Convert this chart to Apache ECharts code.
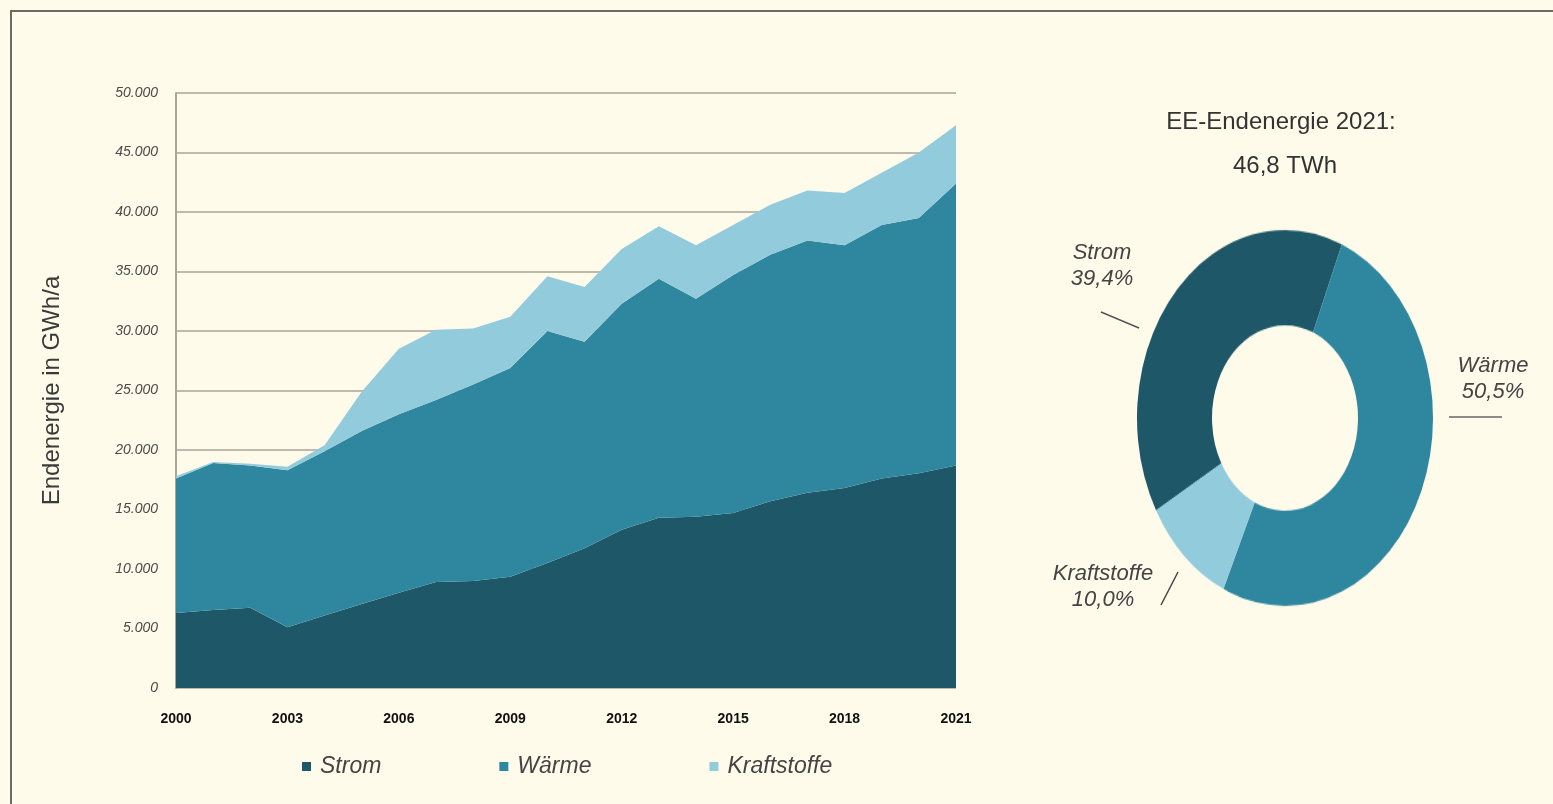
<!DOCTYPE html>
<html>
<head>
<meta charset="utf-8">
<script src="https://cdn.jsdelivr.net/npm/echarts@6/dist/echarts.min.js"></script>
<style>
  html, body { margin: 0; padding: 0; background: #fefbea; }
  #main { position: absolute; left: 0; top: 0; width: 1553px; height: 804px; }
  #pie { position: absolute; left: 1135px; top: 268px; width: 300px; height: 300px; transform: scaleY(1.27); transform-origin: 50% 50%; }
</style>
</head>
<body>
<div id="main"></div>
<div id="pie"></div>
<script>
// ---- data ----
const years = ['2000','2001','2002','2003','2004','2005','2006','2007','2008','2009','2010','2011','2012','2013','2014','2015','2016','2017','2018','2019','2020','2021'];
const strom = [6300, 6550, 6750, 5100, 6100, 7050, 8000, 8900, 9000, 9350, 10500, 11750, 13300, 14300, 14400, 14700, 15700, 16400, 16800, 17600, 18050, 18700];
const waerme = [11300, 12350, 11950, 13200, 13800, 14550, 15000, 15300, 16500, 17550, 19500, 17350, 19000, 20100, 18300, 20000, 20700, 21200, 20400, 21300, 21450, 23700];
const kraftstoffe = [200, 100, 150, 300, 500, 3300, 5500, 5900, 4700, 4300, 4600, 4600, 4600, 4400, 4500, 4200, 4200, 4200, 4400, 4400, 5500, 4900];
const seriesNames = ['Strom', 'Wärme', 'Kraftstoffe'];
const pieShares = [39.4, 50.5, 10.0];
const pieTitle = 'EE-Endenergie 2021:';
const pieTotal = '46,8 TWh';
const yAxisName = 'Endenergie in GWh/a';

const colors = ['#1e5868', '#2f879f', '#92cbdc'];
const FONT = "'Liberation Sans Narrow', 'Liberation Sans', Arial, sans-serif";
const textColor = '#3a3a3a';

function fmtThousand(v) {
  return v === 0 ? '0' : String(v).replace(/\B(?=(\d{3})+(?!\d))/g, '.');
}
function fmtPct(v) { return v.toFixed(1).replace('.', ',') + '%'; }

const main = echarts.init(document.getElementById('main'));
const areaSeries = [strom, waerme, kraftstoffe].map((d, i) => ({
  name: seriesNames[i],
  type: 'line',
  stack: 'total',
  data: d,
  symbol: 'none',
  lineStyle: { width: 0 },
  areaStyle: { color: colors[i], opacity: 1 },
  itemStyle: { color: colors[i] },
  z: 2
}));

main.setOption({
  backgroundColor: '#fefbea',
  animation: false,
  grid: { left: 176, right: 597, top: 93, bottom: 116 },
  xAxis: {
    type: 'category',
    data: years,
    boundaryGap: false,
    axisLine: { show: false },
    axisTick: { show: false },
    axisLabel: {
      interval: 2,
      margin: 24,
      fontFamily: FONT,
      fontWeight: 'bold',
      fontSize: 14,
      color: '#111'
    }
  },
  yAxis: {
    type: 'value',
    min: 0,
    max: 50000,
    interval: 5000,
    name: yAxisName,
    nameLocation: 'middle',
    nameGap: 112,
    nameRotate: 90,
    nameTextStyle: { fontFamily: FONT, fontSize: 24, color: textColor },
    axisLine: { show: true, lineStyle: { color: '#aaa49a', width: 2 } },
    axisTick: { show: false },
    axisLabel: {
      formatter: fmtThousand,
      margin: 18,
      fontFamily: FONT,
      fontStyle: 'italic',
      fontSize: 14,
      color: '#4a4a4a'
    },
    splitLine: { lineStyle: { color: '#aaa49a', width: 1.5 } }
  },
  legend: {
    data: seriesNames,
    left: 297,
    top: 750,
    icon: 'rect',
    itemWidth: 9,
    itemHeight: 9,
    itemGap: 118,
    textStyle: { fontFamily: FONT, fontStyle: 'italic', fontSize: 23, color: '#444', padding: [0, 0, 0, 4] }
  },
  graphic: [
    { type: 'rect', shape: { x: 11, y: 11, width: 1700, height: 1000 }, style: { fill: 'transparent', stroke: '#6b6b63', lineWidth: 2 }, silent: true },
    { type: 'text', x: 1281, y: 122, style: { text: pieTitle, fontFamily: FONT, fontSize: 24, fill: '#333', textAlign: 'center', textVerticalAlign: 'middle' } },
    { type: 'text', x: 1285, y: 166, style: { text: pieTotal, fontFamily: FONT, fontSize: 24, fill: '#333', textAlign: 'center', textVerticalAlign: 'middle' } },
    { type: 'text', x: 1102, y: 266, style: { text: seriesNames[0] + '\n' + fmtPct(pieShares[0]), fontFamily: FONT, fontStyle: 'italic', fontSize: 22, lineHeight: 26, fill: '#444', textAlign: 'center', textVerticalAlign: 'middle' } },
    { type: 'line', shape: { x1: 1101, y1: 312, x2: 1139, y2: 328 }, style: { stroke: '#555', lineWidth: 1.5 } },
    { type: 'text', x: 1493, y: 379, style: { text: seriesNames[1] + '\n' + fmtPct(pieShares[1]), fontFamily: FONT, fontStyle: 'italic', fontSize: 22, lineHeight: 26, fill: '#444', textAlign: 'center', textVerticalAlign: 'middle' } },
    { type: 'line', shape: { x1: 1449, y1: 417, x2: 1502, y2: 417 }, style: { stroke: '#666', lineWidth: 1.5 } },
    { type: 'text', x: 1103, y: 587, style: { text: seriesNames[2] + '\n' + fmtPct(pieShares[2]), fontFamily: FONT, fontStyle: 'italic', fontSize: 22, lineHeight: 26, fill: '#444', textAlign: 'center', textVerticalAlign: 'middle' } },
    { type: 'line', shape: { x1: 1161, y1: 605, x2: 1178, y2: 572 }, style: { stroke: '#444', lineWidth: 1.5 } }
  ],
  series: areaSeries
});

const pie = echarts.init(document.getElementById('pie'));
pie.setOption({
  animation: false,
  series: [{
    type: 'pie',
    center: ['50%', '50%'],
    radius: [73, 148],
    startAngle: 209.4,
    clockwise: true,
    label: { show: false },
    labelLine: { show: false },
    data: seriesNames.map((n, i) => ({ name: n, value: pieShares[i], itemStyle: { color: colors[i] } }))
  }]
});
</script>
</body>
</html>
